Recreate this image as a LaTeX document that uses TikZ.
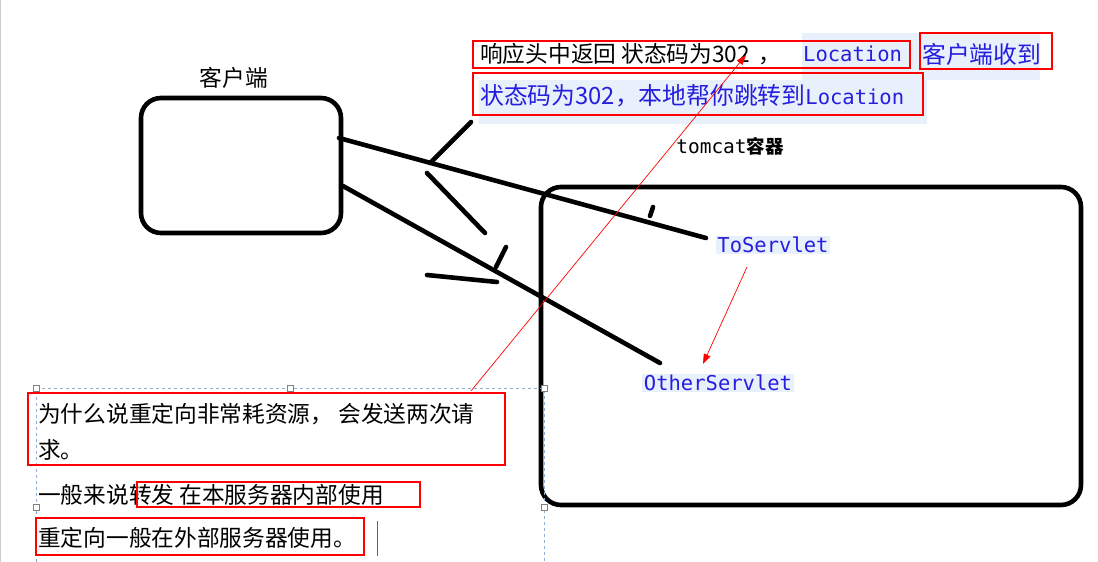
\documentclass[tikz,border=0pt]{standalone}
\usepackage{fontspec}
\setmainfont{Noto Sans CJK SC}
\newfontfamily\codefont{DejaVu Sans Mono}
\usetikzlibrary{arrows.meta}
\definecolor{codeblue}{RGB}{38,30,222}
\definecolor{hilite}{RGB}{231,240,251}
\definecolor{selblue}{RGB}{140,175,210}
\newcommand\cnsize{\fontsize{22.7}{27}\selectfont}
\newcommand\bluesize{\fontsize{23.8}{28}\selectfont}
\newcommand\codesize{\fontsize{20.5}{24}\selectfont}

\begin{document}
\begin{tikzpicture}[x=1pt,y=-1pt,
  sketch/.style={line width=4.6pt,line cap=round},
  sketchbox/.style={draw,line width=4.6pt,rounded corners=20pt,inner sep=0pt},
  redbox/.style={draw=red,line width=2pt},
  cntext/.style={anchor=west,inner sep=0pt,font=\cnsize},
  codetext/.style={inner sep=1.5pt,fill=hilite,text=codeblue,font=\codefont\codesize},
  redarrow/.style={red,line width=0.7pt,-{Triangle[length=10pt,width=7pt]}}]
  \useasboundingbox (0,0) rectangle (1098,562);
  \fill[white] (0,0) rectangle (1098,562);
  \draw[black!20,line width=1.2pt] (0.6,0) -- (0.6,562);

  \node[sketchbox,minimum width=200pt,minimum height=135pt] (client) at (241,165.5) {};
  \node[font=\cnsize] (clientlbl) at (234,78) {客户端};
  \node[sketchbox,minimum width=540pt,minimum height=318pt] (tomcat) at (811,346) {};
  \node (tomcatlbl) at (730,146) {{\codefont\fontsize{19.5}{22}\selectfont tomcat}{\fontsize{18.5}{22}\selectfont\bfseries 容器}};

  \node[codetext] (to) at (773,245) {ToServlet};
  \node[codetext] (other) at (718,383) {OtherServlet};

  \coordinate (c1) at (339,138);
  \coordinate (c2) at (343,186);
  \coordinate (toend) at (706,238);
  \coordinate (otherend) at (660,363);
  \draw[sketch] (c1) -- (toend);
  \draw[sketch] (c2) -- (otherend);
  \draw[sketch] (471,122) -- (430,163);
  \draw[sketch] (427,173) -- (485,233);
  \draw[sketch] (506,247) -- (496,267);
  \draw[sketch] (427,275) -- (497,282);
  \draw[sketch] (653,207) -- (650,216);

  \fill[hilite] (802,33) rectangle (1040,80);
  \fill[hilite] (479,80) rectangle (927,124);
  \node[cntext] (resp) at (480,54) {响应头中返回 状态码为302 \,，};
  \node[cntext,text=codeblue,font=\codefont\codesize] (loc) at (803,54) {Location};
  \node[cntext,text=codeblue,font=\bluesize] (recv) at (922,54) {客户端收到};
  \node[cntext,text=codeblue,font=\bluesize] (jump) at (480,96) {状态码为302，本地帮你跳转到{\codefont\codesize Location}};
  \draw[redbox] (473,41) rectangle (910,68);
  \draw[redbox] (920,33) rectangle (1052,69);
  \draw[redbox] (473,73) rectangle (923,115);

  \draw[selblue,dashed,line width=0.8pt] (36,562) -- (36,388) -- (544,388) -- (544,562);
  \foreach \p in {(36,388),(290,388),(544,388),(36,507),(544,507)}
    \draw[black!50,fill=white,line width=0.6pt] \p ++(-3,-3) rectangle ++(6,6);
  \node[cntext] (why1) at (38,414) {为什么说重定向非常耗资源， 会发送两次请};
  \node[cntext] (why2) at (38,450) {求。};
  \node[cntext] (fwd) at (38,495) {一般来说转发 在本服务器内部使用};
  \node[cntext] (redir) at (38,538) {重定向一般在外部服务器使用。};
  \draw[redbox] (28,393) rectangle (505,465);
  \draw[redbox] (137,482) rectangle (420,507);
  \draw[redbox] (36,518) rectangle (364,555);
  \draw[black!60,line width=1pt] (377,521) -- (377,556);

  \coordinate (askfrom) at (471,391);
  \coordinate (askto) at (746,55);
  \draw[redarrow] (askfrom) -- (askto);
  \coordinate (fwdfrom) at (747,267);
  \coordinate (fwdto) at (703,364);
  \draw[redarrow] (fwdfrom) -- (fwdto);
\end{tikzpicture}
\end{document}
